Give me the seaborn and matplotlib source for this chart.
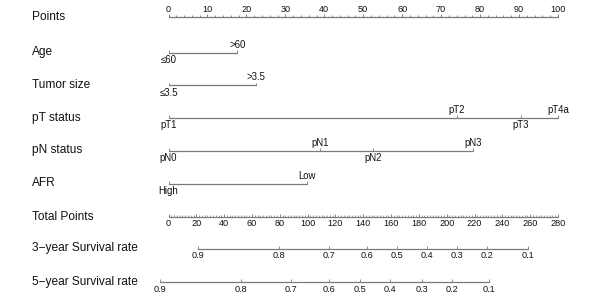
import numpy as np
import pandas as pd
import matplotlib
matplotlib.use("Agg")
import matplotlib.pyplot as plt
import seaborn as sns

# row names (top to bottom)
row_names = ["Points", "Age", "Tumor size", "pT status", "pN status", "AFR",
             "Total Points", "3\u2212year Survival rate", "5\u2212year Survival rate"]

# predictor levels and their points (0-100 scale)
age_levels = ["\u226460", ">60"]
age_points = [0, 17.7]
size_levels = ["\u22643.5", ">3.5"]
size_points = [0, 22.5]
pt_levels = ["pT1", "pT2", "pT3", "pT4a"]
pt_points = [0, 74.0, 90.4, 100.0]
pn_levels = ["pN0", "pN1", "pN2", "pN3"]
pn_points = [0, 38.9, 52.6, 78.3]
afr_levels = ["High", "Low"]
afr_points = [0, 35.5]

# survival probabilities and the total points where they sit
surv_labels = ["0.9", "0.8", "0.7", "0.6", "0.5", "0.4", "0.3", "0.2", "0.1"]
surv3_total = [21.5, 79.1, 115.4, 142.7, 164.3, 185.9, 207.5, 229.1, 258.6]
surv5_total = [-6.1, 52.0, 88.2, 115.6, 137.9, 159.5, 182.3, 204.0, 230.3]

TOTAL_MAX = 280

sns.set_style("white")
plt.rcParams["font.family"] = ["Liberation Sans", "DejaVu Sans"]

fig = plt.figure(figsize=(6, 3), dpi=100)
ax = fig.add_axes([0, 0, 1, 1])
# x in "points" units, y in pixel rows
px0, px_per_pt = 168.5, 3.895
xlim = (-px0 / px_per_pt, (600 - px0) / px_per_pt)

row_y = [17, 52.5, 85, 117.5, 150.5, 183.5, 216.5, 248.5, 281.5]
line_col = "#7a7a7a"
txt_col = "#111111"
lab_x = xlim[0] + 32 / px_per_pt

for name, y in zip(row_names, row_y):
    ax.text(lab_x, y, name, fontsize=8.6, color=txt_col, va="center", ha="left")

# long table of the horizontal axis segments
segs = []
def add_seg(row, x0, x1, y):
    segs.append({"row": row, "x": x0, "y": y})
    segs.append({"row": row, "x": x1, "y": y})

def tot2pts(v):
    return np.asarray(v, dtype=float) * 100 / TOTAL_MAX

# Points scale
add_seg("points", 0, 100, row_y[0])
ax.vlines(np.arange(0, 101, 2), row_y[0] - 1.8, row_y[0], color=line_col, lw=0.6)
ax.vlines(np.arange(0, 101, 10), row_y[0] - 3, row_y[0], color=line_col, lw=0.6)
for v in range(0, 101, 10):
    ax.text(v, row_y[0] - 7, str(v), fontsize=6.6, ha="center", va="center", color=txt_col)

# predictors
preds = [(age_levels, age_points), (size_levels, size_points), (pt_levels, pt_points),
         (pn_levels, pn_points), (afr_levels, afr_points)]
for i, (levels, pts) in enumerate(preds):
    y = row_y[i + 1]
    add_seg(f"pred{i}", min(pts), max(pts), y)
    ax.vlines(pts, y - 2.2, y, color=line_col, lw=0.6)
    for j, (lv, p) in enumerate(zip(levels, pts)):
        up = (j % 2 == 1)
        ax.text(p, y - 7.5 if up else y + 7.5, lv, fontsize=6.9, ha="center",
                va="center", color=txt_col)

# Total points
yt = row_y[6]
add_seg("total", 0, 100, yt)
ax.vlines(tot2pts(np.arange(0, TOTAL_MAX + 1, 2)), yt - 1.8, yt, color=line_col, lw=0.5)
ax.vlines(tot2pts(np.arange(0, TOTAL_MAX + 1, 20)), yt - 3, yt, color=line_col, lw=0.6)
for v in range(0, TOTAL_MAX + 1, 20):
    ax.text(tot2pts(v), yt + 6.5, str(v), fontsize=6.6, ha="center", va="center", color=txt_col)

# survival scales
for k, tots in enumerate([surv3_total, surv5_total]):
    y = row_y[7 + k]
    xs = tot2pts(tots)
    add_seg(f"surv{k}", xs.min(), xs.max(), y)
    ax.vlines(xs, y - 2.5, y, color=line_col, lw=0.6)
    for lab, x in zip(surv_labels, xs):
        ax.text(x, y + 7.5, lab, fontsize=6.6, ha="center", va="center", color=txt_col)

seg_df = pd.DataFrame(segs)
sns.lineplot(data=seg_df, x="x", y="y", units="row", estimator=None,
             color=line_col, lw=0.9, ax=ax, sort=False)
ax.set_xlim(*xlim)
ax.set_ylim(300, 0)
ax.axis("off")

fig.savefig("out.png", dpi=100, facecolor="white")
